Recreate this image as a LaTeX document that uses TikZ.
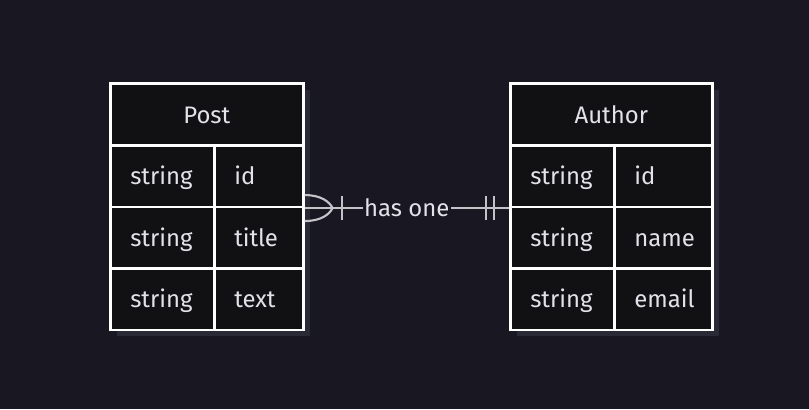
\documentclass[tikz,border=0pt]{standalone}
\usepackage{fontspec}
\setmainfont{Fira Sans}
\usepackage{tikz}
\usetikzlibrary{positioning, calc}
\definecolor{bgdark}{RGB}{24,23,34}
\definecolor{cellfill}{RGB}{17,17,20}
\definecolor{shadowc}{RGB}{42,41,54}
\definecolor{celltext}{RGB}{226,226,232}
\definecolor{relgray}{RGB}{196,196,200}
\tikzset{
  cell/.style={rectangle, draw=white, fill=cellfill, line width=1.8pt,
    text width=#1, align=left, inner xsep=0.5cm, inner ysep=0pt,
    text height=14pt, text depth=1.5pt,
    minimum height=1.5375cm, anchor=north west,
    font=\fontsize{17}{20}\selectfont, text=celltext},
  header/.style={rectangle, draw=white, fill=cellfill, line width=1.8pt,
    minimum width=#1, minimum height=1.55cm, anchor=north west, inner sep=0pt,
    text height=14pt, text depth=1.5pt,
    font=\fontsize{17}{20}\selectfont, text=celltext},
  conn/.style={draw=relgray, line width=1.5pt},
  rellabel/.style={fill=bgdark, inner xsep=1pt, inner ysep=2pt, text=celltext,
    font=\fontsize{17}{20}\selectfont}
}
\begin{document}
\begin{tikzpicture}[x=0.025cm, y=-0.025cm]
  \fill[bgdark] (0,0) rectangle (809,409);
  \useasboundingbox (0,0) rectangle (809,409);

  % --- shadows ---
  \fill[shadowc] (117,90) rectangle (310,336);
  \fill[shadowc] (517,90) rectangle (719,336);

  % --- POST TABLE ---
  \node[header=4.825cm] (p_head) at (109,82) {Post};
  \node[cell=1.6cm] (p_s1) at (109,144) {string};
  \node[cell=1.225cm] (p_id) at (213,144) {id};
  \node[cell=1.6cm] (p_s2) at (109,205.5) {string};
  \node[cell=1.225cm] (p_title) at (213,205.5) {title};
  \node[cell=1.6cm] (p_s3) at (109,267) {string};
  \node[cell=1.225cm] (p_text) at (213,267) {text};

  % --- AUTHOR TABLE ---
  \node[header=5.05cm] (a_head) at (509,82) {Author};
  \node[cell=1.6cm] (a_s1) at (509,144) {string};
  \node[cell=1.45cm] (a_id) at (613,144) {id};
  \node[cell=1.6cm] (a_s2) at (509,205.5) {string};
  \node[cell=1.45cm] (a_name) at (613,205.5) {name};
  \node[cell=1.6cm] (a_s3) at (509,267) {string};
  \node[cell=1.45cm] (a_email) at (613,267) {email};

  % --- RELATION ---
  \draw[conn] (p_id.south east) -- (a_s1.south west);
  \node[rellabel] (rel) at ($(p_id.south east)!0.5!(a_s1.south west)$) {has one};
  % one or more (post side)
  \coordinate (crow) at ($(p_id.south east)+(28,0)$);
  \draw[conn] ($(p_id.south east)+(0,-13)$) .. controls ($(p_id.south east)+(17,-13)$) and ($(p_id.south east)+(25,-6)$) .. (crow);
  \draw[conn] ($(p_id.south east)+(0,13)$) .. controls ($(p_id.south east)+(17,13)$) and ($(p_id.south east)+(25,6)$) .. (crow);
  \draw[conn] ($(p_id.south east)+(37,-12)$) -- ++(0,24);
  % exactly one (author side)
  \draw[conn] ($(a_s1.south west)+(-23,-12)$) -- ++(0,24);
  \draw[conn] ($(a_s1.south west)+(-15,-12)$) -- ++(0,24);
\end{tikzpicture}
\end{document}
